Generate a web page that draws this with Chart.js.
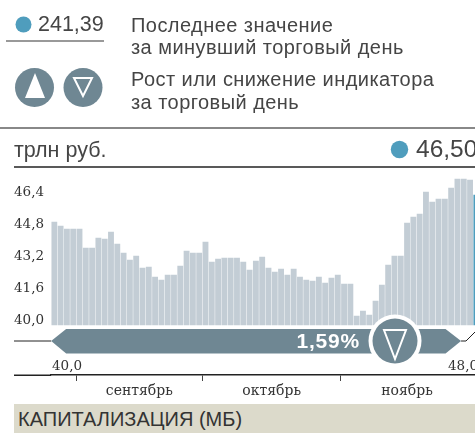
<!DOCTYPE html>
<html>
<head>
<meta charset="utf-8">
<script src="https://cdn.jsdelivr.net/npm/chart.js@4"></script>
<style>
html,body{margin:0;padding:0;background:#fff;overflow:hidden;width:475px;height:433px}
#wrap{position:relative;width:475px;height:433px;overflow:hidden}
canvas{position:absolute;left:0;top:0}
.t{position:absolute;white-space:nowrap;font-family:"Liberation Sans",sans-serif;color:#454545;line-height:1}
.p{font-size:20px;letter-spacing:.45px}
.s{font-family:"DejaVu Serif",serif;font-size:13.5px;color:#333}
#strip{position:absolute;left:14px;top:404px;width:461px;height:29px;background:#dcdacb}
</style>
</head>
<body>
<div id="wrap">
<canvas id="grafico" width="482" height="433"></canvas>
<div class="t" style="left:38px;top:14px;font-size:21.5px">241,39</div>
<div class="t p" style="left:131px;top:15px">Последнее значение</div>
<div class="t p" style="left:131px;top:37px">за минувший торговый день</div>
<div class="t p" style="left:131px;top:69px">Рост или снижение индикатора</div>
<div class="t p" style="left:131px;top:92px">за торговый день</div>
<div class="t" style="left:14px;top:140px;font-size:21.5px">трлн руб.</div>
<div class="t" style="left:416px;top:137px;font-size:24.5px">46,50</div>
<div class="t s" style="left:52px;top:359px">40,0</div>
<div class="t s" style="left:448px;top:359px">48,0</div>
<div id="strip"></div>
<div class="t" style="left:18px;top:409px;font-size:20px;color:#333">КАПИТАЛИЗАЦИЯ (МБ)</div>
</div>
<script>
// valores de las barras, trln rub
const dias = ["1","2","3","4","5","6","7","8","9","10","11","12","13","14","15","16","17","18","19","20","21","22","23","24","25","26","27","28","29","30","31","32","33","34","35","36","37","38","39","40","41","42","43","44","45","46","47","48","49","50","51","52","53","54","55","56","57","58","59","60","61","62","63","64","65","66","67","68"];
const valores = [45.15,44.95,44.8,44.8,44.8,43.85,43.85,44.35,44.3,44.65,44.05,43.6,43.25,43.45,42.85,42.9,42.4,42.25,42.5,42.5,42.95,43.7,43.6,43.6,44.15,43.15,43.3,43.35,43.35,43.35,
43.15,42.75,43.2,43.4,42.85,42.65,42.8,42.5,42.8,42.4,42.25,42.2,42.4,42.1,42.35,42.5,42.05,42.05,40.45,40.7,40.5,41.2,42.0,43.0,43.45,43.45,45.1,45.4,45.55,46.65,46.15,46.3,46.3,46.85,47.3,47.3,47.25,46.5];
const marcasY = [40,41.6,43.2,44.8,46.4];
const limitesMes = [3.5,23.5,45.5];
const centrosMes = {13.5:"сентябрь",34.5:"октябрь",56:"ноябрь"};
const rangoMin = 40, rangoMax = 48;
const cambio = "1,59%";

const GRIS = "#c3cdd5", AZUL = "#4f9dbd", PIZARRA = "#6f8793", NEGRO = "#222";

function triangulo(ctx,x1,y1,x2,y2,x3,y3){
    ctx.beginPath();ctx.moveTo(x1,y1);ctx.lineTo(x2,y2);ctx.lineTo(x3,y3);ctx.closePath();
}
function circulo(ctx,x,y,r,color){
    ctx.fillStyle=color;ctx.beginPath();ctx.arc(x,y,r,0,Math.PI*2);ctx.fill();
}
function linea(ctx,x1,y1,x2,y2,color,w){
    ctx.strokeStyle=color;ctx.lineWidth=w;ctx.beginPath();ctx.moveTo(x1,y1);ctx.lineTo(x2,y2);ctx.stroke();
}

// la leyenda de arriba y la banda del rango
const extras = {
    id:"extras",
    afterDraw(chart){
        const ctx = chart.ctx;
        const esc = chart.scales.rango;
        ctx.save();
        circulo(ctx,23.5,24.5,8,AZUL);
        linea(ctx,6,41,104,41,"#777",1.5);
        circulo(ctx,34.5,87.5,19.5,PIZARRA);
        ctx.fillStyle="#fff";triangulo(ctx,35,73,25,98,45,98);ctx.fill();
        circulo(ctx,83,87.5,19.5,PIZARRA);
        ctx.strokeStyle="#fff";ctx.lineWidth=2;triangulo(ctx,74,78,92,78,83,96);ctx.stroke();
        linea(ctx,0,128,475,128,"#888",2);
        linea(ctx,14,167,475,167,NEGRO,1.5);
        circulo(ctx,399.5,149.5,8.7,AZUL);
        // tramo del eje a la izquierda de las barras
        linea(ctx,14,375.25,chart.chartArea.left,375.25,NEGRO,1.5);
        // banda
        const x0 = esc.getPixelForValue(rangoMin), x1 = esc.getPixelForValue(rangoMax);
        linea(ctx,14,341,x0,341,NEGRO,1);
        ctx.strokeStyle=NEGRO;ctx.lineWidth=1;ctx.beginPath();ctx.moveTo(x1,341);ctx.lineTo(466,341);ctx.lineTo(476,331);ctx.stroke();
        ctx.fillStyle=PIZARRA;ctx.beginPath();
        ctx.moveTo(x0,341);ctx.lineTo(x0+15,329);ctx.lineTo(x1-15.5,329);ctx.lineTo(x1,341);ctx.lineTo(x1-15.5,353.5);ctx.lineTo(x0+15,353.5);ctx.closePath();ctx.fill();
        circulo(ctx,395,341,26.5,"#fff");
        circulo(ctx,395,341,22.5,PIZARRA);
        ctx.strokeStyle="#fff";ctx.lineWidth=2;triangulo(ctx,384,330,406,330,395,359);ctx.stroke();
        ctx.fillStyle="#fff";ctx.font='bold 21px "Liberation Sans",sans-serif';ctx.letterSpacing="0.8px";ctx.textAlign="right";ctx.textBaseline="middle";
        ctx.fillText(cambio,360,342);
        ctx.restore();
    }
};

var ctx = document.getElementById("grafico").getContext("2d");
var chart = new Chart(ctx,{
    type:"bar",
    data:{
        labels:dias,
        datasets:[{
            data:valores,
            base:40,
            barThickness:5.2,
            backgroundColor:valores.map((v,i)=> i==valores.length-1 ? AZUL : GRIS)
        }]
    },
    options:{
        responsive:false,
        animation:false,
        layout:{padding:{left:14,top:167,right:2.5,bottom:0}},
        plugins:{legend:{display:false},tooltip:{enabled:false}},
        scales:{
            x:{display:false,offset:true,grid:{display:false}},
            y:{
                min:37.5,max:47.9,
                position:"left",
                afterFit(s){s.width=37.15},
                afterBuildTicks(s){s.ticks=marcasY.map(v=>({value:v}))},
                grid:{display:false},
                border:{display:false},
                ticks:{
                    crossAlign:"far",
                    padding:0,
                    labelOffset:-5,
                    color:"#333",
                    font:{family:'"DejaVu Serif",serif',size:13.5},
                    callback:v=>v.toFixed(1).replace(".",",")
                }
            },
            meses:{
                type:"linear",axis:"x",position:"bottom",
                offset:false,
                min:-0.5,max:67.5,
                afterFit(s){s.height=58},
                afterBuildTicks(s){
                    s.ticks=limitesMes.concat(Object.keys(centrosMes).map(Number)).sort((a,b)=>a-b).map(v=>({value:v}));
                },
                border:{color:NEGRO,width:1.5},
                grid:{
                    offset:false,
                    drawOnChartArea:false,
                    tickLength:6,
                    tickWidth:1,
                    tickColor:c=> c.tick && limitesMes.includes(c.tick.value) ? "#444" : "rgba(0,0,0,0)"
                },
                ticks:{
                    autoSkip:false,maxRotation:0,padding:2,
                    color:"#333",
                    font:{family:'"DejaVu Serif",serif',size:14},
                    callback:v=> centrosMes[v] || ""
                }
            },
            rango:{
                type:"linear",axis:"x",display:false,
                offset:false,
                min:40,max:48.36
            }
        }
    },
    plugins:[extras]
});
</script>
</body>
</html>
